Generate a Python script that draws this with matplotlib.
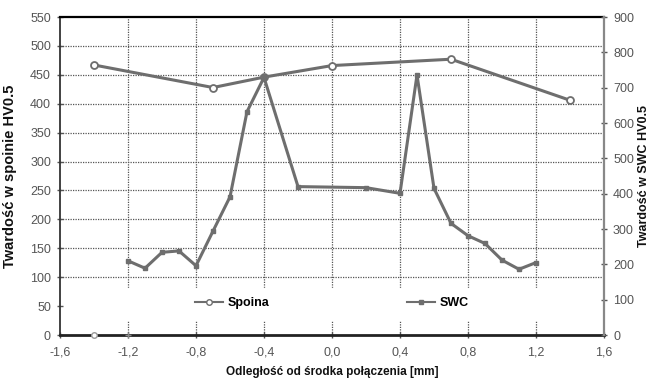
import numpy as np
import matplotlib
matplotlib.use("Agg")
import matplotlib.pyplot as plt
from matplotlib.lines import Line2D

# dane
spoina_x = [-1.4, -0.7, -0.4, 0.0, 0.7, 1.4]
spoina_y = [467, 428, 446, 466, 477, 406]

swc_x = [-1.2, -1.1, -1.0, -0.9, -0.8, -0.7, -0.6, -0.5, -0.4, -0.2, 0.2, 0.4, 0.5, 0.6, 0.7, 0.8, 0.9, 1.0, 1.1, 1.2]
swc_y = [210, 189, 234, 238, 196, 294, 391, 632, 729, 420, 417, 401, 736, 415, 316, 281, 259, 212, 186, 205]

# pojedyncze punkty na osi
spoina_zero_x = [-1.4]
spoina_zero_y = [0]
swc_zero_x = [-1.2]
swc_zero_y = [0]

x_ticks = [-1.6, -1.2, -0.8, -0.4, 0.0, 0.4, 0.8, 1.2, 1.6]
left_ticks = list(range(0, 551, 50))
right_ticks = list(range(0, 901, 100))

plt.rcParams['font.family'] = ['Liberation Sans Narrow', 'Liberation Sans', 'DejaVu Sans']

kolor = '#6e6e6e'
tick_col = '#555555'

fig = plt.figure(figsize=(6.5, 3.92), dpi=100)
ax = fig.add_axes([60/650, 1-335/392, 544/650, 318/392])
ax2 = ax.twinx()

ax.set_xlim(-1.6, 1.6)
ax.set_ylim(0, 550)
ax2.set_ylim(0, 900)

# siatka
for xv in x_ticks[1:-1]:
    ax.axvline(xv, color='#555555', ls=(0, (1, 1)), lw=0.9, zorder=0.5)
for yv in left_ticks[2:-1]:
    ax.axhline(yv, color='#555555', ls=(0, (1, 1)), lw=0.9, zorder=0.5)
# pole legendy zakrywa siatke
ax.axhspan(26, 81, color='white', zorder=1)

ax.plot(spoina_x, spoina_y, color=kolor, lw=2.2, marker='o', ms=5,
        mfc='white', mec=kolor, mew=1.3, zorder=3, clip_on=False)
ax.plot(spoina_zero_x, spoina_zero_y, ls='none', marker='o', ms=4,
        mfc='white', mec='#999999', mew=1, zorder=4, clip_on=False)

ax2.plot(swc_x, swc_y, color=kolor, lw=2.2, marker='s', ms=3.5,
         mfc=kolor, mec=kolor, zorder=3)
ax2.plot(swc_zero_x, swc_zero_y, ls='none', marker='+', ms=5,
         color='#888888', mew=1, zorder=4, clip_on=False)

# osie
ax.set_xticks(x_ticks)
ax.set_xticklabels([f"{v:.1f}".replace('.', ',').replace('-0,0', '0,0') for v in x_ticks])
ax.set_yticks(left_ticks)
ax2.set_yticks(right_ticks)

for a in (ax, ax2):
    a.tick_params(colors=tick_col, labelsize=9, direction='inout', length=5, width=1)
ax.tick_params(axis='x', pad=6)
ax.tick_params(axis='y', pad=4)
ax2.tick_params(axis='y', pad=4)

ax.spines['top'].set_color('black')
ax.spines['top'].set_linewidth(1.6)
ax.spines['left'].set_color('#333333')
ax.spines['left'].set_linewidth(1.3)
ax.spines['bottom'].set_color('#222222')
ax.spines['bottom'].set_linewidth(2)
ax2.spines['right'].set_color('#888888')
ax2.spines['right'].set_linewidth(1.6)
for s in ('top', 'left', 'bottom'):
    ax2.spines[s].set_visible(False)
ax.spines['right'].set_visible(False)

lab = dict(fontweight='bold', family=['Liberation Sans', 'DejaVu Sans'], color='#111111')
ax.set_xlabel('Odległość od środka połączenia [mm]', labelpad=5, fontsize=8.5, **lab)
ax.set_ylabel('Twardość w spoinie HV0.5', labelpad=9, fontsize=10.5, **lab)
ax2.set_ylabel('Twardość w SWC HV0.5', labelpad=3, fontsize=9, **lab)

handles = [
    Line2D([], [], color=kolor, lw=1.5, marker='o', ms=4, mfc='white', mec=kolor),
    Line2D([], [], color=kolor, lw=1.5, marker='s', ms=2.5, mfc=kolor, mec=kolor),
]
leg = ax2.legend(handles, ['Spoina', 'SWC'], loc='center', bbox_to_anchor=(0.5, 55/550),
                 ncol=2, frameon=False, columnspacing=11, handlelength=2.2,
                 handletextpad=0.4, prop={'family': ['Liberation Sans Narrow', 'Liberation Sans'],
                                          'weight': 'bold', 'size': 9})

fig.savefig('out.png', dpi=100)
